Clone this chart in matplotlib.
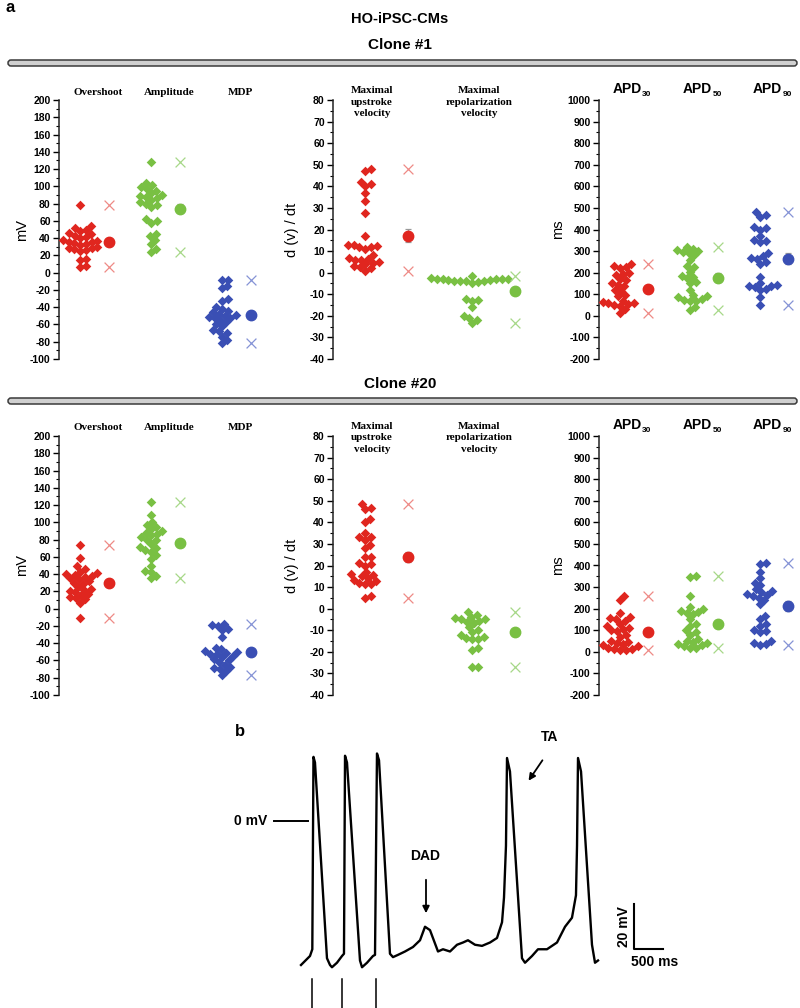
import numpy as np
import matplotlib
matplotlib.use('Agg')
import matplotlib.pyplot as plt
from matplotlib.patches import FancyBboxPatch
from matplotlib.ticker import MultipleLocator

plt.rcParams['font.family'] = ['Liberation Sans', 'DejaVu Sans']
plt.rcParams['axes.unicode_minus'] = False

W, H = 800, 1008

RED, GREEN, BLUE = '#e0261f', '#79c043', '#3a4fb4'
RED_X, GREEN_X, BLUE_X = '#ee8a86', '#a6d888', '#8593d6'

# ---- panel a, clone #1 ----
c1_overshoot = [78, 54, 52, 50, 48, 46, 45, 43, 41, 40, 38, 37, 36, 35, 34, 33,
                32, 30, 29, 28, 27, 26, 25, 16, 15, 8, 6]
c1_amplitude = [128, 104, 101, 99, 97, 95, 92, 90, 89, 88, 86, 84, 82, 80, 78,
                76, 62, 60, 58, 45, 42, 38, 33, 27, 24]
c1_mdp = [-8, -8, -15, -18, -31, -33, -40, -42, -44, -46, -48, -49, -50, -51,
          -52, -53, -55, -57, -60, -62, -66, -68, -70, -74, -78, -82]
c1_upstroke = [48, 47, 42, 41, 40, 37, 33, 27.5, 17, 13, 13, 12.5, 12, 12, 11,
               8, 7, 6.5, 6, 6, 5, 4.5, 4, 3, 2.5, 2, 1]
c1_repol = [-1.5, -2.5, -3, -3, -3, -3, -3, -3.5, -3.5, -4, -4, -4, -4, -4.5,
            -5, -12, -12.5, -13, -16, -20, -21, -22, -23.5]
c1_apd30 = [240, 230, 225, 220, 200, 195, 190, 170, 165, 150, 145, 140, 120,
            115, 95, 90, 70, 65, 60, 58, 55, 50, 45, 30, 15]
c1_apd50 = [320, 310, 305, 300, 295, 290, 280, 260, 230, 225, 205, 185, 180,
            175, 155, 150, 120, 95, 90, 85, 80, 75, 70, 70, 40, 25]
c1_apd90 = [480, 465, 460, 410, 405, 400, 370, 350, 345, 340, 290, 275, 270,
            265, 250, 240, 180, 150, 145, 140, 140, 135, 125, 120, 85, 50]

# ---- panel a, clone #20 ----
c20_overshoot = [74, 59, 49, 46, 43, 41, 40, 39, 38, 37, 35, 34, 32, 30, 29,
                 25, 23, 22, 21, 19, 17, 16, 14, 12, 11, 7, -11]
c20_amplitude = [124, 109, 100, 97, 95, 92, 90, 88, 86, 85, 83, 80, 79, 75, 72,
                 70, 68, 66, 62, 58, 50, 44, 42, 38, 35]
c20_mdp = [-18, -19, -20, -23, -25, -33, -45, -47, -49, -50, -51, -52, -53,
           -55, -56, -58, -60, -62, -65, -67, -69, -70, -72, -77]
c20_upstroke = [48.5, 46.5, 46, 41.5, 40, 35, 33, 33, 32, 29.5, 28, 24, 24, 21,
                20.5, 20, 17, 16, 15.5, 15, 14, 13.5, 13, 12, 11.5, 11.5, 6, 5]
c20_repol = [-1.5, -3, -4, -4.5, -5, -5, -5.5, -6, -6.5, -8.5, -10, -11, -12,
             -13, -13.5, -14, -14, -18, -19, -27, -27]
c20_apd30 = [260, 240, 180, 160, 155, 150, 145, 130, 120, 110, 105, 100, 95,
             80, 70, 50, 45, 40, 35, 30, 25, 20, 15, 12, 10, 10]
c20_apd50 = [350, 345, 260, 210, 200, 190, 185, 180, 175, 150, 130, 120, 100,
             90, 80, 60, 50, 45, 40, 35, 30, 25, 20, 20]
c20_apd90 = [410, 405, 370, 340, 320, 310, 290, 280, 275, 270, 265, 260, 250,
             240, 220, 165, 150, 130, 120, 100, 95, 90, 50, 40, 35, 30]

mv_labels = ['Overshoot', 'Amplitude', 'MDP']
vel_labels = ['Maximal\nupstroke\nvelocity', 'Maximal\nrepolarization\nvelocity']
apd_labels = [('APD', '30'), ('APD', '50'), ('APD', '90')]

# ---- panel b, action potential trace ----
trace_ms = [0, 155, 195, 215, 241, 448, 500, 534, 620, 707, 741, 759, 793, 1017,
            1052, 1138, 1241, 1276, 1310, 1345, 1534, 1586, 1672, 1793, 1931,
            2052, 2138, 2224, 2362, 2448, 2569, 2690, 2793, 2879, 3000, 3121,
            3259, 3379, 3466, 3500, 3534, 3552, 3603, 3810, 3862, 3983, 4086,
            4241, 4414, 4552, 4672, 4741, 4759, 4776, 4828, 5017, 5069, 5121]
trace_mv = [-64, -60, -57, 28.5, 26, -61, -64, -65, -63, -60, -59, 29, 26, -62,
            -65, -63, -60, -59.5, 30, 27, -59, -60.5, -59.5, -58, -56,
            -53, -47, -48.5, -58, -57, -58, -55, -54, -53, -55, -55.5,
            -54, -52, -45, -34, -11, 28, 22, -61, -63, -60, -57,
            -57, -54, -47, -43, -33, -11, 28, 22, -55, -63, -62]
stim_ms = [190, 707, 1293]

fig = plt.figure(figsize=(8, 10.08), dpi=100)


def px_axes(left, top, right, bottom):
    return fig.add_axes([left / W, 1 - bottom / H, (right - left) / W, (bottom - top) / H])


def swarm(vals, ppu, d=6.0):
    # simple beeswarm: offsets in pixels so diamonds do not pile up
    placed = []
    offs = np.zeros(len(vals))
    for i in np.argsort(vals):
        y = vals[i] * ppu
        cands = [0.0]
        for py, px in placed:
            dy = y - py
            if abs(dy) < d:
                dx = np.sqrt(d * d - dy * dy)
                cands += [px + dx, px - dx]
        cands.sort(key=abs)
        for c in cands:
            if all((c - px) ** 2 + (y - py) ** 2 >= d * d - 1e-6 for py, px in placed):
                offs[i] = c
                placed.append((y, c))
                break
    return offs


AX_H = 259


def dot_panel(left, top, width, groups, ylim, major, ylabel, ylabel_x,
              first, spacing, sum_off, labels, label_serif, label_dx, label_y):
    ax = px_axes(left, top, left + width, top + AX_H)
    ax.set_xlim(0, width)
    ax.set_ylim(*ylim)
    ppu = AX_H / (ylim[1] - ylim[0])
    cols = [(RED, RED_X), (GREEN, GREEN_X), (BLUE, BLUE_X)]
    tr = ax.get_xaxis_transform()
    for i, vals in enumerate(groups):
        vals = np.asarray(vals, float)
        col, xcol = cols[i]
        cx = first + spacing * i
        ax.scatter(cx + swarm(vals, ppu), vals, marker='D', s=24, color=col,
                   lw=0, zorder=3, clip_on=False)
        sx = cx + sum_off
        ax.scatter([sx, sx], [vals.max(), vals.min()], marker='x', s=50,
                   color=xcol, lw=0.9, zorder=3, clip_on=False)
        sem = vals.std(ddof=1) / np.sqrt(len(vals))
        ax.errorbar(sx, vals.mean(), yerr=sem, fmt='o', ms=7.5, color=col,
                    mec=col, ecolor='#999999', elinewidth=0.9, capsize=2,
                    capthick=0.9, zorder=4)
        if label_serif:
            ax.text(cx + label_dx, label_y, labels[i], transform=tr,
                    ha='center', va='center', fontsize=8, fontweight='bold',
                    family='Liberation Serif', linespacing=1.3)
        else:
            main, sub = labels[i]
            t = ax.text(cx + label_dx - 3, label_y, main, transform=tr,
                        ha='center', va='center', fontsize=10, fontweight='bold')
            ax.annotate(sub, xy=(1, 0), xycoords=t, xytext=(0.5, -1.5),
                        textcoords='offset points', ha='left', va='bottom',
                        fontsize=6, fontweight='bold')
    for s in ['top', 'right', 'bottom']:
        ax.spines[s].set_visible(False)
    ax.spines['left'].set_linewidth(1.1)
    ax.spines['left'].set_color('#222222')
    ax.set_xticks([])
    ax.yaxis.set_major_locator(MultipleLocator(major))
    ax.yaxis.set_minor_locator(MultipleLocator(major / 2))
    ax.tick_params(axis='y', which='major', length=4, width=1, labelsize=7.5, pad=2)
    ax.tick_params(axis='y', which='minor', length=2.5, width=0.8)
    plt.setp(ax.get_yticklabels(), fontweight='bold')
    ax.set_ylabel(ylabel, fontsize=10.5)
    ax.yaxis.set_label_coords(ylabel_x, 0.5)
    ax.patch.set_visible(False)
    return ax


for top, data in [(100, (c1_overshoot, c1_amplitude, c1_mdp, c1_upstroke, c1_repol,
                         c1_apd30, c1_apd50, c1_apd90)),
                  (436, (c20_overshoot, c20_amplitude, c20_mdp, c20_upstroke, c20_repol,
                         c20_apd30, c20_apd50, c20_apd90))]:
    dot_panel(59, top, 210, data[0:3], (-100, 200), 20, 'mV', -0.145,
              21, 71, 29, mv_labels, True, 18, 1 + 8 / AX_H)
    dot_panel(333, top, 205, data[3:5], (-40, 80), 10, 'd (v) / dt', -0.165,
              32, 107, 43, vel_labels, True, 7, 1 - 2 / AX_H)
    dot_panel(599, top, 200, data[5:8], (-200, 1000), 100, 'ms', -0.17,
              21, 70, 28, apd_labels, False, 10, 1 + 11 / AX_H)

# ---- overlay for headings, bars and annotations (pixel coordinates) ----
ov = px_axes(0, 0, W, H)
ov.set_xlim(0, W)
ov.set_ylim(H, 0)
ov.axis('off')

ov.text(5, 8, 'a', fontsize=12, fontweight='bold', va='center')
ov.text(400, 19, 'HO-iPSC-CMs', fontsize=10.5, fontweight='bold', ha='center', va='center')
ov.text(400, 45, 'Clone #1', fontsize=11, fontweight='bold', ha='center', va='center')
ov.text(400, 384, 'Clone #20', fontsize=11, fontweight='bold', ha='center', va='center')
for y in (63, 401):
    ov.add_patch(FancyBboxPatch((8, y - 3), 789, 6,
                                boxstyle='round,pad=0,rounding_size=3',
                                fc='#d0d0d0', ec='#3a3a3a', lw=1.1))

ov.text(240, 732, 'b', fontsize=12, fontweight='bold', ha='center', va='center')
ov.text(251, 821, '0 mV', fontsize=10, fontweight='bold', ha='center', va='center')
ov.text(425, 856, 'DAD', fontsize=10, fontweight='bold', ha='center', va='center')
ov.text(550, 737, 'TA', fontsize=10, fontweight='bold', ha='center', va='center')
ov.text(624, 927, '20 mV', fontsize=10, fontweight='bold', ha='center', va='center',
        rotation=90)
ov.text(655, 962, '500 ms', fontsize=10, fontweight='bold', ha='center', va='center')
ov.annotate('', xy=(426, 916), xytext=(426, 877),
            arrowprops=dict(arrowstyle='-|>', color='k', lw=1.3, mutation_scale=10))
ov.annotate('', xy=(527, 783), xytext=(544, 758),
            arrowprops=dict(arrowstyle='-|>', color='k', lw=1.3, mutation_scale=10))

# ---- panel b trace ----
x0, px_per_ms = 301, 29 / 500
y0, px_per_mv = 821, 45 / 20
axb = px_axes(230, 720, 700, 1008)
axb.set_xlim((230 - x0) / px_per_ms, (700 - x0) / px_per_ms)
axb.set_ylim((y0 - 1008) / px_per_mv, (y0 - 720) / px_per_mv)
axb.axis('off')
axb.plot(trace_ms, trace_mv, color='black', lw=1.7, solid_joinstyle='round')
axb.plot([-466, 121], [0, 0], color='black', lw=1.4)
for t in stim_ms:
    axb.plot([t, t], [-70, -83], color='black', lw=1.1, clip_on=False)
sb_t, sb_v = 5741, -57
axb.plot([sb_t, sb_t, sb_t + 500], [sb_v + 20, sb_v, sb_v], color='black', lw=1.5)

fig.savefig('out.png', dpi=100)
